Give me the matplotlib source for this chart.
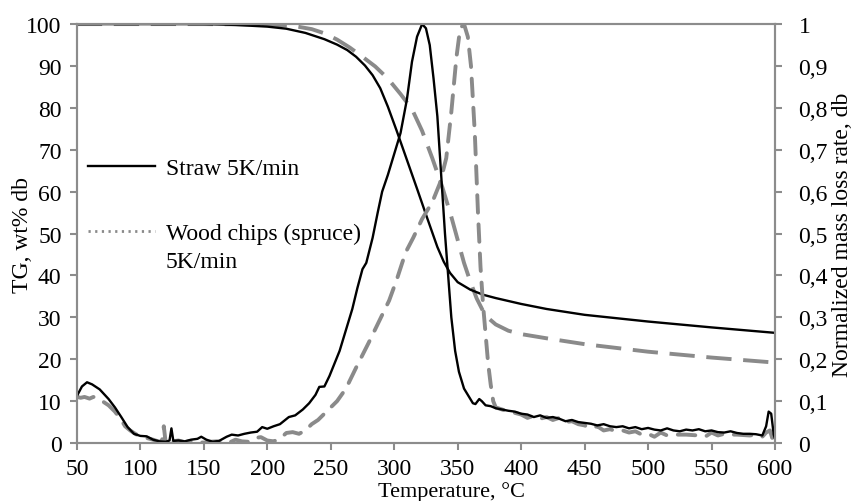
import matplotlib
matplotlib.use("Agg")
import matplotlib.pyplot as plt
from matplotlib.lines import Line2D

plt.rcParams["font.family"] = ["Liberation Serif", "DejaVu Serif"]
plt.rcParams["font.size"] = 17

# TG curves (wt% db, left axis)
straw_tg_t = [50, 100, 150, 175, 200, 215, 230, 245, 255, 263, 270, 277, 283, 289, 295,
              302, 310, 318, 326, 334, 339, 344, 350, 360, 370, 380, 400, 420, 450, 500,
              550, 600]
straw_tg = [100, 100, 100, 99.8, 99.4, 98.9, 97.9, 96.4, 95.1, 93.8, 92.2, 90.1, 87.8,
            84.7, 80.3, 74.5, 67.6, 60.7, 53.7, 46.8, 43.3, 40.6, 38.4, 36.6, 35.4,
            34.6, 33.2, 32, 30.6, 29, 27.6, 26.3]

wood_tg_t = [50, 100, 150, 200, 220, 235, 245, 255, 265, 275, 285, 295, 305, 314, 322,
             330, 338, 345, 350, 355, 360, 365, 370, 375, 380, 390, 400, 420, 450, 500,
             550, 600]
wood_tg = [100, 100, 100, 99.9, 99.6, 98.8, 97.8, 96.3, 94.4, 92.2, 89.9, 87, 83.3,
           79.7, 74.5, 68, 61, 54, 48.5, 43, 38.5, 34.5, 31.5, 29.6, 28.3, 26.8, 26,
           25, 23.6, 21.8, 20.4, 19.2]

# DTG curves (normalized mass loss rate, right axis)
straw_dtg_t = [50, 54, 58, 62, 68, 75, 80, 85, 90, 95, 100, 105, 110, 115, 120, 123,
               124.5, 126, 130, 135, 140, 145, 148, 152, 157, 162, 168, 172, 177, 182,
               187, 192, 196, 200, 205, 210, 217, 222, 228, 233, 238, 241, 245, 249,
               253, 257, 262, 267, 271, 275, 278, 283, 287, 290.5, 295, 300, 305,
               310, 314, 318, 322, 325, 328, 331, 334, 337, 340, 342, 345, 348, 351,
               355, 359, 362, 364, 367, 369, 372, 376, 380, 385, 390, 395, 400, 405,
               410, 415, 420, 425, 430, 435, 440, 445, 450, 455, 460, 465, 470, 475,
               480, 485, 490, 495, 500, 505, 510, 515, 520, 525, 530, 535, 540, 545,
               550, 555, 560, 565, 570, 575, 580, 585, 590, 593, 595, 597, 599, 600]
straw_dtg = [0.112, 0.135, 0.145, 0.14, 0.128, 0.105, 0.085, 0.062, 0.038, 0.022, 0.017,
             0.016, 0.008, 0.004, 0.003, 0.006, 0.035, 0.005, 0.006, 0.004, 0.008, 0.01,
             0.015, 0.008, 0.003, 0.005, 0.015, 0.02, 0.018, 0.022, 0.025, 0.027, 0.038,
             0.034, 0.04, 0.045, 0.062, 0.066, 0.08, 0.095, 0.115, 0.134, 0.135, 0.16,
             0.19, 0.22, 0.27, 0.32, 0.37, 0.415, 0.43, 0.49, 0.55, 0.6, 0.64, 0.69,
             0.74, 0.82, 0.91, 0.97, 1.0, 0.99, 0.95, 0.87, 0.78, 0.64, 0.5, 0.42,
             0.3, 0.22, 0.17, 0.13, 0.11, 0.095, 0.093, 0.105, 0.1, 0.09, 0.088, 0.083,
             0.08, 0.077, 0.075, 0.07, 0.068, 0.062, 0.066, 0.06, 0.062, 0.058, 0.052,
             0.055, 0.05, 0.048, 0.046, 0.042, 0.045, 0.04, 0.038, 0.04, 0.035, 0.038,
             0.033, 0.036, 0.032, 0.03, 0.035, 0.03, 0.028, 0.032, 0.03, 0.033, 0.028,
             0.03, 0.026, 0.025, 0.028, 0.024, 0.022, 0.022, 0.021, 0.018, 0.04, 0.075,
             0.07, 0.02, 0.01]

wood_dtg_t = [50, 53, 56, 60, 63, 66, 70, 75, 80, 85, 88, 92, 96, 100, 105, 110, 114,
              117, 118.5, 120, 122, 125, 130, 135, 140, 145, 150, 155, 160, 165, 170,
              175, 180, 185, 190, 195, 200, 205, 210, 215, 220, 225, 230, 235, 240,
              245, 250, 255, 262, 270, 280, 288, 296, 302, 309, 315, 322, 330, 336,
              341, 345, 349, 352, 355, 358, 360.5, 363.5, 366, 368, 370, 372, 374,
              376, 378, 380, 385, 390, 395, 400, 405, 410, 415, 420, 425, 430, 435,
              440, 445, 450, 455, 460, 465, 470, 475, 480, 485, 490, 495, 500, 505,
              510, 515, 520, 530, 540, 545, 550, 555, 560, 565, 570, 580, 585, 590,
              593, 596, 598, 600]
wood_dtg = [0.11, 0.108, 0.11, 0.106, 0.11, 0.108, 0.1, 0.09, 0.075, 0.055, 0.04, 0.03,
            0.022, 0.015, 0.012, 0.008, 0.004, 0.003, 0.04, 0.0, 0.01, 0.004, 0.006,
            0.002, 0.005, 0.002, 0.001, 0.003, 0.004, 0.002, 0.001, 0.008, 0.004, 0.003,
            0.012, 0.014, 0.006, 0.004, 0.01, 0.024, 0.026, 0.022, 0.03, 0.045, 0.055,
            0.07, 0.085, 0.1, 0.13, 0.18, 0.24, 0.29, 0.34, 0.39, 0.455, 0.49, 0.535,
            0.575, 0.62, 0.68, 0.79, 0.92, 0.99, 1.0, 0.97, 0.9, 0.74, 0.55, 0.42,
            0.33, 0.26, 0.19, 0.14, 0.1, 0.085, 0.08, 0.075, 0.072, 0.068, 0.06, 0.065,
            0.058, 0.062, 0.055, 0.06, 0.05, 0.052, 0.045, 0.042, 0.035, 0.04, 0.03,
            0.033, 0.028, 0.03, 0.025, 0.028, 0.02, 0.022, 0.015, 0.025, 0.018, 0.02,
            0.02, 0.018, 0.015, 0.025, 0.018, 0.022, 0.02, 0.02, 0.018, 0.02, 0.015,
            0.025, 0.03, 0.01, 0.0]

left_ticks = list(range(0, 101, 10))
right_ticks = [i / 10 for i in range(11)]
right_labels = ["0", "0,1", "0,2", "0,3", "0,4", "0,5", "0,6", "0,7", "0,8", "0,9", "1"]
x_ticks = list(range(50, 601, 50))

gray = "#8a8a8a"
axis_gray = "#8c8c8c"

fig = plt.figure(figsize=(8.54, 5.02), dpi=100)
ax = fig.add_axes([0.090, 0.1155, 0.8175, 0.8345])
ax2 = ax.twinx()

ax.plot(wood_tg_t, wood_tg, color=gray, lw=2.8, dashes=(6.5, 3))
ax.plot(straw_tg_t, straw_tg, color="black", lw=1.7)
ax2.plot(wood_dtg_t, wood_dtg, color=gray, lw=2.8, dashes=(4.5, 3),
         solid_capstyle="round", dash_capstyle="round")
ax2.plot(straw_dtg_t, straw_dtg, color="black", lw=1.7)

ax.set_xlim(50, 600)
ax.set_ylim(0, 100)
ax2.set_ylim(0, 1)
ax.set_xticks(x_ticks)
ax.set_yticks(left_ticks)
ax2.set_yticks(right_ticks)
ax2.set_yticklabels(right_labels)

for a in (ax, ax2):
    for s in a.spines.values():
        s.set_color(axis_gray)
        s.set_linewidth(1.5)
    a.tick_params(color=axis_gray, width=1.5, length=5, direction="out")
ax.tick_params(axis="y", pad=6)
ax.tick_params(axis="x", pad=5.5)
ax2.tick_params(axis="y", pad=12)

ax.set_xlabel("Temperature, °C", fontsize=16)
ax.xaxis.label.set_va("baseline")
ax.xaxis.set_label_coords(0.536, -0.1253)
ax.set_ylabel("TG, wt% db", labelpad=-5)
ax2.set_ylabel("Normalized mass loss rate, db", labelpad=3)

handles = [Line2D([], [], color="black", lw=1.7),
           Line2D([], [], color=gray, lw=2, linestyle=(0, (0.8, 1.6)))]
ax.legend(handles, ["Straw 5K/min", "Wood chips (spruce)"], loc="upper left",
          bbox_to_anchor=(0.0158, 0.681), frameon=False, borderaxespad=0, borderpad=0,
          handlelength=2.84, handletextpad=0.47, labelspacing=1.84)
fig.text(166 / 854, 1 - 268 / 502, "5K/min", va="baseline", ha="left")

fig.savefig("out.png", dpi=100)
